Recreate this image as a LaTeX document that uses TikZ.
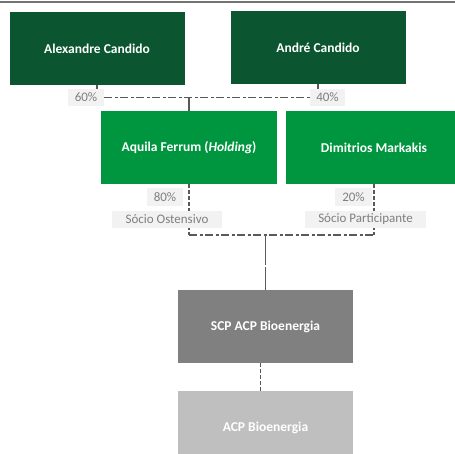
\documentclass[tikz,border=0pt]{standalone}
\usepackage{fontspec}
\setmainfont{Carlito}
\usetikzlibrary{positioning,backgrounds}
\definecolor{ownerdark}{HTML}{0B5530}
\definecolor{ownergreen}{HTML}{00963F}
\definecolor{scpgray}{HTML}{808080}
\definecolor{acpgray}{HTML}{BFBFBF}
\definecolor{tagfill}{HTML}{F2F2F2}
\definecolor{tagtext}{HTML}{7F7F7F}
\definecolor{linkgray}{HTML}{595959}

\begin{document}
\begin{tikzpicture}[x=1pt, y=-1pt, every node/.style={font=\fontsize{12.5}{14}\selectfont},
	box/.style={minimum width=175pt, minimum height=73pt, inner sep=0pt, text=white, font=\fontsize{13.5}{15}\selectfont\bfseries},
	tag/.style={fill=tagfill, text=tagtext, minimum height=17.5pt, inner sep=0pt, font=\fontsize{13}{15}\selectfont},
	link/.style={draw=linkgray, line width=1.3pt},
	dashdot/.style={link, dash pattern=on 8pt off 2.5pt on 3pt off 2.5pt},
	shortdash/.style={link, dash pattern=on 4pt off 2pt}]
	\useasboundingbox (0,0) rectangle (455,454);
	\draw[draw=gray!90!black, line width=1.6pt] (0,2) -- (455,2);
	% owners
	\node[box, fill=ownerdark] (alexandre) at (97,48.5) {Alexandre Candido};
	\node[box, fill=ownerdark] (andre) at (318,47.5) {André Candido};
	\node[box, fill=ownergreen, minimum width=176pt] (aquila) at (189,147.5) {Aquila Ferrum (\textit{Holding})};
	\node[box, fill=ownergreen, minimum width=176pt] (dimitrios) at (374,147.5) {Dimitrios Markakis};
	\node[box, fill=scpgray] (scp) at (265.5,326.5) {SCP ACP Bioenergia};
	\node[box, fill=acpgray] (acp) at (265.5,427.5) {ACP Bioenergia};
	% shares
	\node[tag, minimum width=36pt] (p60) at (86,97.5) {60\%};
	\node[tag, minimum width=35pt] (p40) at (327.5,97.5) {40\%};
	\node[tag, minimum width=36pt] (p80) at (165,197) {80\%};
	\node[tag, minimum width=37pt] (p20) at (353.5,197) {20\%};
	\node[tag, minimum width=110pt] (ostensivo) at (167,219.5) {Sócio Ostensivo};
	\node[tag, minimum width=121pt] (participante) at (365.5,219.5) {Sócio Participante};
	\coordinate (jl) at (189,235);
	\coordinate (jr) at (374,235);
	% links, behind the tags
	\begin{scope}[on background layer]
	\draw[link] (alexandre.south) -- (alexandre.south |- p60.north);
	\draw[link] (andre.south) -- (andre.south |- p40.north);
	\draw[dashdot] (p60.east) -- (p40.west);
	\draw[link] (aquila.north |- p60.east) -- (aquila.north);
	\draw[shortdash] (aquila.south) -- (jl);
	\draw[shortdash] (dimitrios.south) -- (jr);
	\draw[dashdot] (jl) -- (jr);
	\draw[link, dash pattern=on 30pt off 2pt] (scp.north |- jl) -- (scp.north);
	\draw[shortdash] ([xshift=-5pt]scp.south) -- ([xshift=-5pt]acp.north);
	\end{scope}
\end{tikzpicture}
\end{document}
